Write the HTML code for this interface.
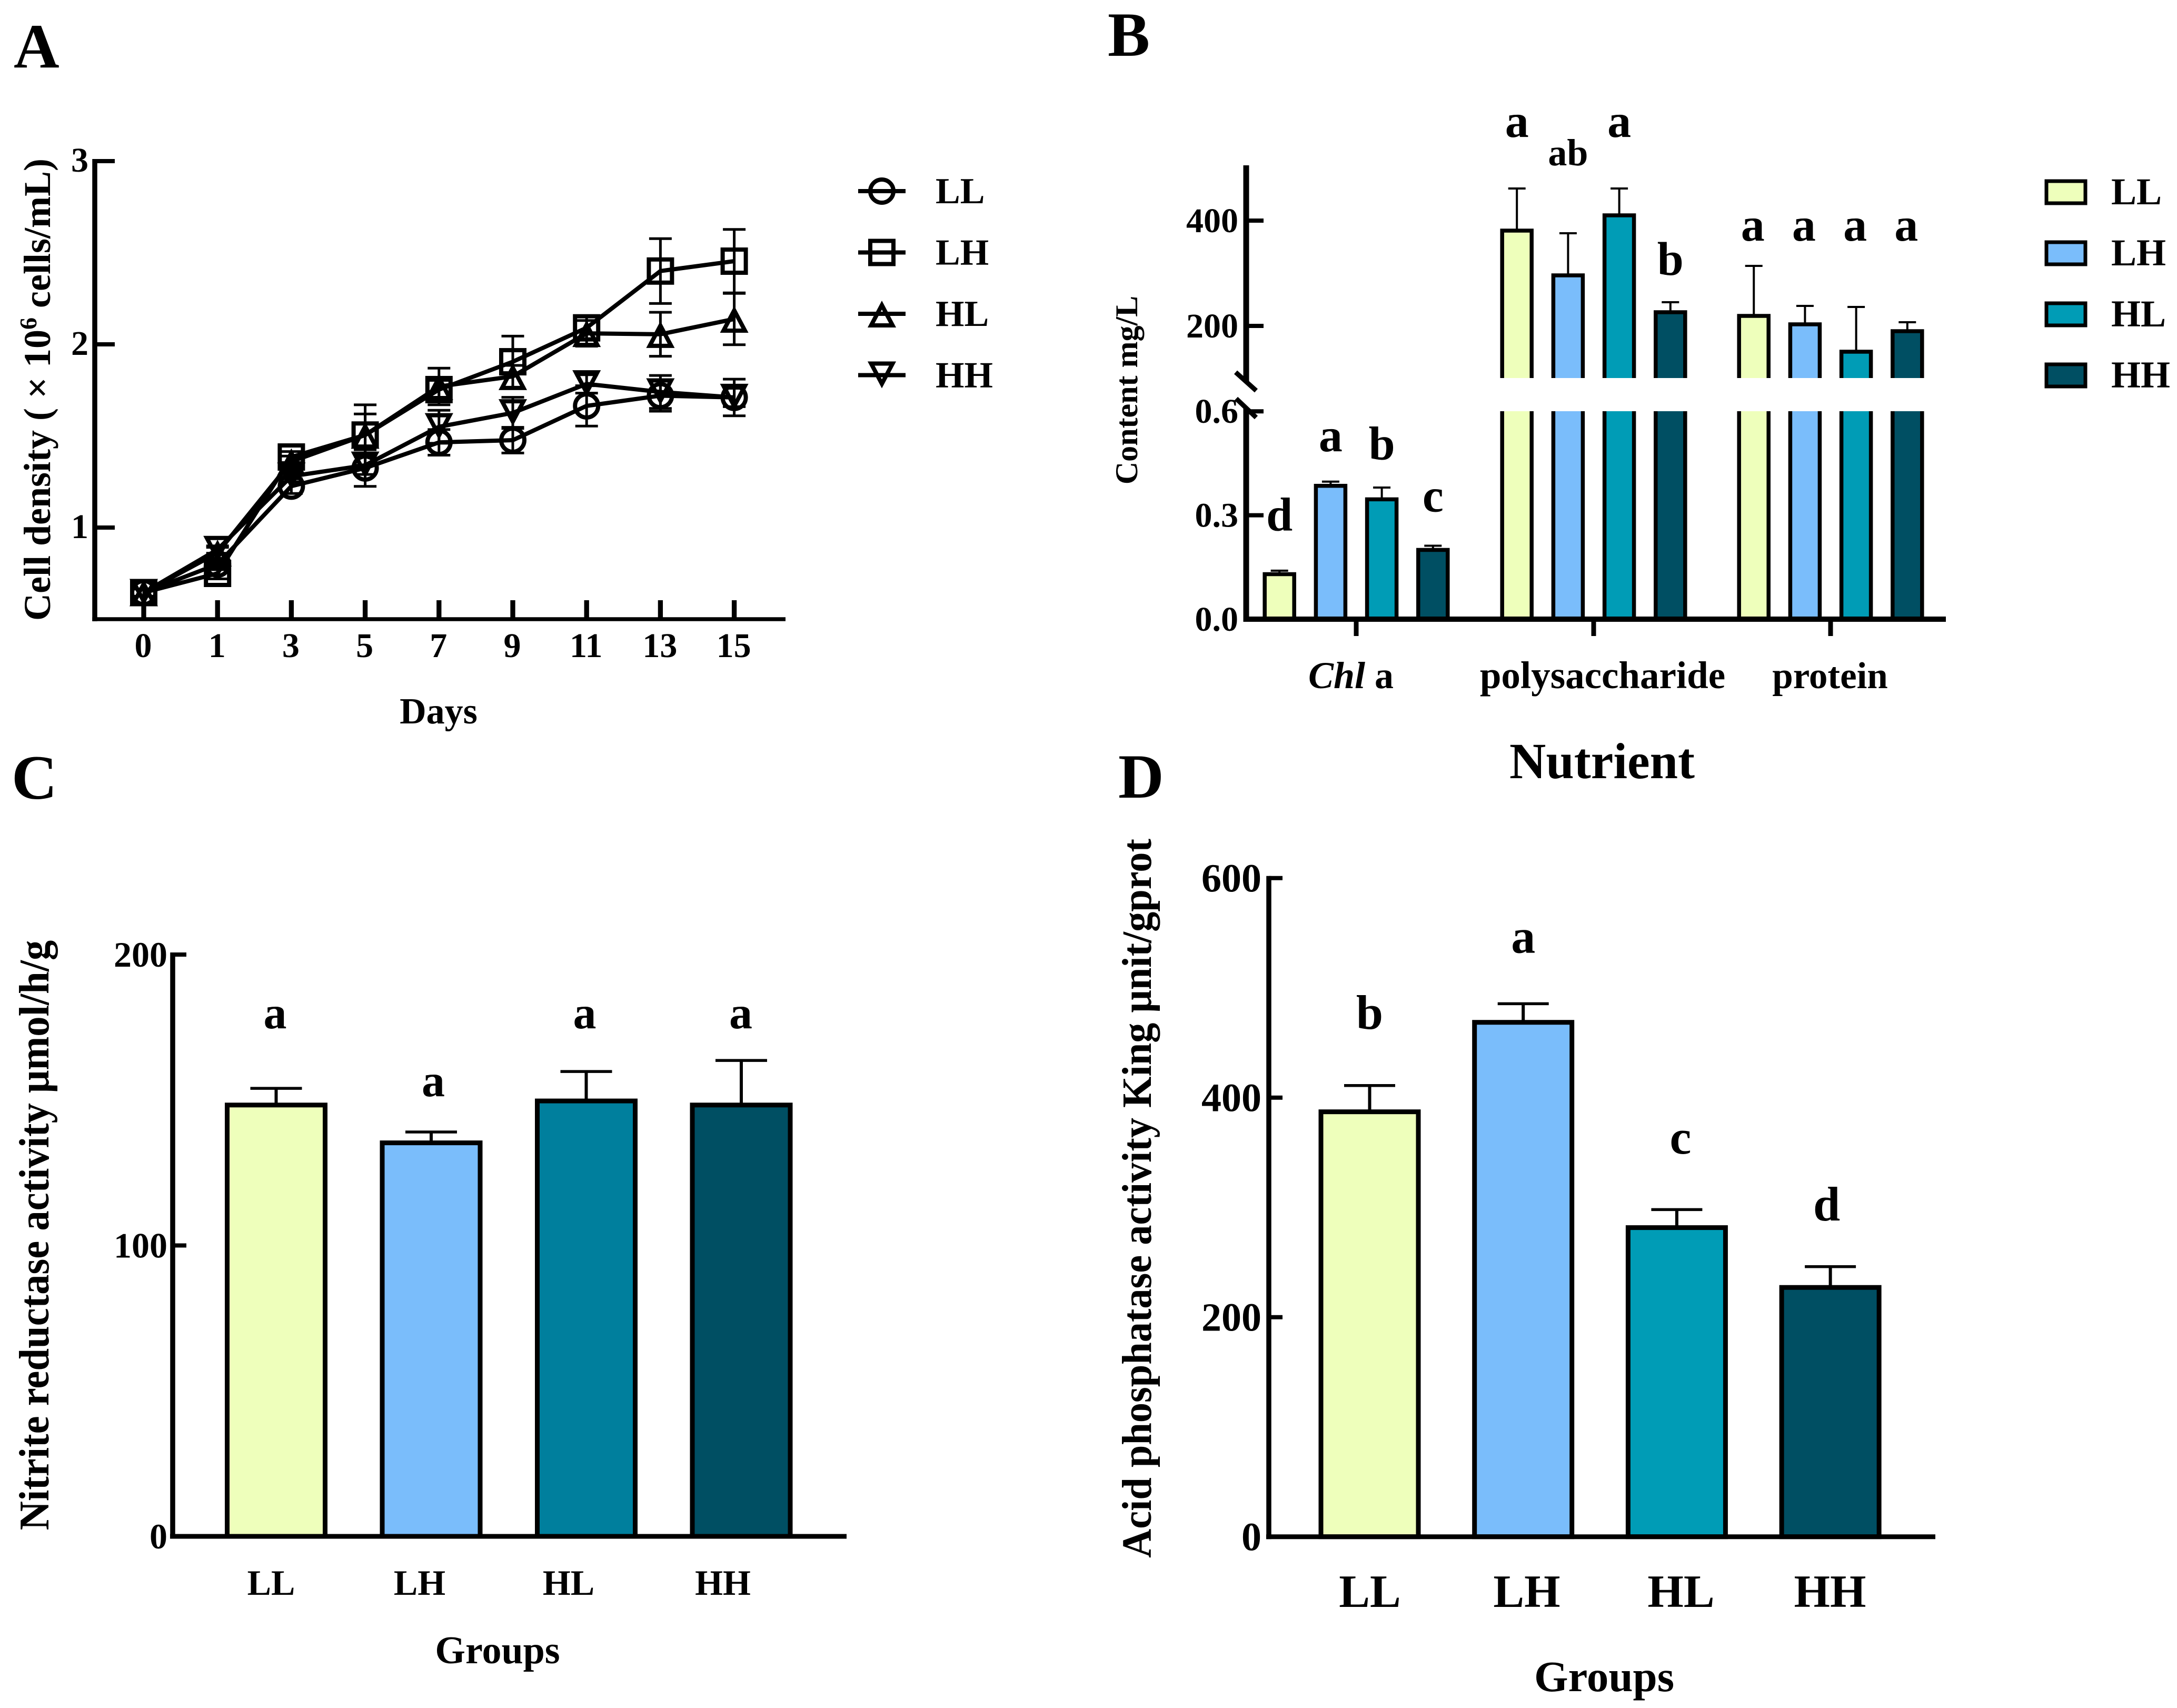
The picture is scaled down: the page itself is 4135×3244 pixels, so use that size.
<!DOCTYPE html>
<html lang="en">
<head>
<meta charset="utf-8">
<title>Microalgae growth and nutrient panels</title>
<style>
html,body{margin:0;padding:0;background:#fff;}
svg{display:block;}
text{font-family:"Liberation Serif",serif;font-weight:bold;fill:#000;}
</style>
</head>
<body>
<svg id="figure" xmlns="http://www.w3.org/2000/svg" width="4135" height="3244" viewBox="0 0 4135 3244">
  <rect width="4135" height="3244" fill="#fff"/>

  <g id="panel-a">
    <text x="26" y="128" font-size="120">A</text>
    <text transform="translate(95 740) rotate(-90)" text-anchor="middle" font-size="72">Cell density ( × 10<tspan font-size="46" dy="-26">6</tspan><tspan dy="26"> cells/mL)</tspan></text>
    <text x="833" y="1374" text-anchor="middle" font-size="70">Days</text>
  </g>

  <g id="panel-b">
    <text x="2104" y="106" font-size="120">B</text>
    <text transform="translate(2160 741) rotate(-90)" text-anchor="middle" font-size="60">Content mg/L</text>
    <text x="3043" y="1478" text-anchor="middle" font-size="96">Nutrient</text>
  </g>

  <g id="panel-c">
    <text x="22" y="1517" font-size="120">C</text>
    <text transform="translate(92 2346) rotate(-90) scale(0.946 1)" text-anchor="middle" font-size="81">Nitrite reductase activity μmol/h/g</text>
    <text x="945" y="3159" text-anchor="middle" font-size="74">Groups</text>
  </g>

  <g id="panel-d">
    <text x="2124" y="1515" font-size="120">D</text>
    <text transform="translate(2186 2276) rotate(-90) scale(0.967 1)" text-anchor="middle" font-size="79">Acid phosphatase activity King μnit/gprot</text>
    <text x="3047" y="3212" text-anchor="middle" font-size="83">Groups</text>
  </g>
</svg>

<script>
/* ---------- shared ---------- */
const groupNames = ['LL', 'LH', 'HL', 'HH'];

/* ---------- panel A data ---------- */
const days = ['0', '1', '3', '5', '7', '9', '11', '13', '15'];
const densityTicks = [1, 2, 3];
const llMeans = [0.645, 0.80, 1.226, 1.325, 1.465, 1.477, 1.664, 1.72, 1.71];
const llErrors = [0.02, 0.03, 0.04, 0.10, 0.07, 0.07, 0.11, 0.085, 0.05];
const lhMeans = [0.645, 0.75, 1.385, 1.505, 1.753, 1.905, 2.09, 2.40, 2.454];
const lhErrors = [0.02, 0.03, 0.03, 0.165, 0.05, 0.14, 0.06, 0.177, 0.173];
const hlMeans = [0.645, 0.862, 1.36, 1.505, 1.77, 1.825, 2.06, 2.055, 2.138];
const hlErrors = [0.02, 0.03, 0.03, 0.115, 0.10, 0.06, 0.07, 0.12, 0.14];
const hhMeans = [0.645, 0.88, 1.28, 1.34, 1.55, 1.626, 1.784, 1.74, 1.71];
const hhErrors = [0.02, 0.02, 0.03, 0.05, 0.09, 0.085, 0.05, 0.09, 0.10];

/* ---------- panel B data ---------- */
const nutrientNames = ['chl-a', 'polysaccharide', 'protein'];
const lowTicks = [0.0, 0.3, 0.6];
const highTicks = [200, 400];
const chlMeans = [0.136, 0.391, 0.352, 0.206];
const chlErrors = [0.004, 0.006, 0.028, 0.006];
const chlLetters = ['d', 'a', 'b', 'c'];
const chlLetterLevels = [0.256, 0.485, 0.461, 0.311];
const polyMeans = [385, 300, 414, 230];
const polyErrors = [76, 76, 47, 15];
const polyLetters = ['a', 'ab', 'a', 'b'];
const polyLetterLevels = [559, 505, 559, 297];
const proteinMeans = [223, 207, 155, 194];
const proteinErrors = [91, 31, 81, 13];
const proteinLetters = ['a', 'a', 'a', 'a'];
const proteinLetterLevels = [362, 362, 362, 362];

/* ---------- panel C data ---------- */
const nitriteTicks = [0, 100, 200];
const nitriteMeans = [149, 136, 150.4, 149];
const nitriteErrors = [5, 3, 9.4, 14.6];
const nitriteLetters = ['a', 'a', 'a', 'a'];
const nitriteLetterLevels = [174.7, 151.3, 174.7, 174.7];

/* ---------- panel D data ---------- */
const phosphataseTicks = [0, 200, 400, 600];
const phosphataseMeans = [389, 470.5, 283.5, 229];
const phosphataseErrors = [22, 15, 14.5, 17];
const phosphataseLetters = ['b', 'a', 'c', 'd'];
const phosphataseLetterLevels = [462.8, 531.9, 349, 288];

/* ---------- helpers ---------- */
const SVG_NS = 'http://www.w3.org/2000/svg';

function add(parent, tag, attrs, text) {
  const el = document.createElementNS(SVG_NS, tag);
  for (const key in attrs) el.setAttribute(key, attrs[key]);
  if (text !== undefined) el.textContent = text;
  parent.appendChild(el);
  return el;
}

function seg(parent, x1, y1, x2, y2, width) {
  return add(parent, 'line', { x1: x1, y1: y1, x2: x2, y2: y2, stroke: '#000', 'stroke-width': width });
}

function label(parent, x, y, size, anchor, text) {
  return add(parent, 'text', { x: x, y: y, 'font-size': size, 'text-anchor': anchor }, text);
}

function drawMarker(parent, kind, cx, cy) {
  const style = { fill: 'none', stroke: '#000', 'stroke-width': 8, 'stroke-linejoin': 'miter' };
  if (kind === 'LL') return add(parent, 'circle', Object.assign({ cx: cx, cy: cy, r: 22 }, style));
  if (kind === 'LH') return add(parent, 'rect', Object.assign({ x: cx - 22, y: cy - 22, width: 44, height: 44 }, style));
  const dir = kind === 'HL' ? 1 : -1;
  const pts = [[0, -16.5 * dir], [20.4, 22 * dir], [-20.4, 22 * dir]].map(p => (cx + p[0]) + ',' + (cy + p[1])).join(' ');
  return add(parent, 'polygon', Object.assign({ points: pts }, style));
}

/* error bar: stem from the bar top to the cap */
function drawError(parent, x, yFrom, yTo, capWidth, stemThick, capThick, name) {
  const stem = seg(parent, x, yFrom, x, yTo, stemThick);
  
  
  const cap = seg(parent, x - capWidth / 2, yTo, x + capWidth / 2, yTo, capThick);
  
  
}

/* ---------- panel A ---------- */
(function () {
  const root = document.getElementById('panel-a');
  const xA = i => 273 + 140.2 * i;
  const yA = v => 1176 - (v - 0.5) * 348;

  const series = [
    { key: 'LL', means: llMeans, errs: llErrors },
    { key: 'LH', means: lhMeans, errs: lhErrors },
    { key: 'HL', means: hlMeans, errs: hlErrors },
    { key: 'HH', means: hhMeans, errs: hhErrors }
  ];

  const yAxis = seg(root, 180, 302, 180, 1180, 9.5);
  
  
  const xAxis = seg(root, 175.3, yA(0.5), 1492, yA(0.5), 7.5);
  
  

  densityTicks.forEach(t => {
    const tick = seg(root, 180, yA(t), 218, yA(t), 8);
    
    
    const txt = label(root, 168, yA(t) + 20, 66, 'end', String(t));
    
    
  });

  days.forEach((d, i) => {
    const tick = seg(root, xA(i), 1140, xA(i), 1176, 9.3);
    
    
    const txt = label(root, xA(i) - 1, 1248, 66, 'middle', d);
    
    
  });

  series.forEach(s => {
    const g = add(root, 'g', {});
    
    
    s.means.forEach((m, i) => {
      const top = seg(g, xA(i), yA(m + s.errs[i]), xA(i), yA(m - s.errs[i]), 5);
      
      
      const capHi = seg(g, xA(i) - 21.5, yA(m + s.errs[i]), xA(i) + 21.5, yA(m + s.errs[i]), 5);
      
      
      const capLo = seg(g, xA(i) - 21.5, yA(m - s.errs[i]), xA(i) + 21.5, yA(m - s.errs[i]), 5);
      
      
    });
    const pts = s.means.map((m, i) => xA(i) + ',' + yA(m)).join(' ');
    const line = add(g, 'polyline', { points: pts, fill: 'none', stroke: '#000', 'stroke-width': 8, 'stroke-linejoin': 'miter' });
    
    
    s.means.forEach((m, i) => {
      const mark = drawMarker(g, s.key, xA(i), yA(m));
      
      
    });
  });

  groupNames.forEach((n, i) => {
    const cy = 363 + 116.5 * i;
    const g = add(root, 'g', {});
    
    
    const ln = seg(g, 1630, cy, 1720, cy, 8);
    
    
    const mk = drawMarker(g, n, 1675, cy);
    
    
    const tx = label(g, 1777, cy + 23, 70, 'start', n);
    
    
  });
})();

/* ---------- panel colours ---------- */
const barColorsB = ['#EEFFBB', '#7ABDFB', '#009CB6', '#004F63'];
const barColorsC = ['#EEFFBB', '#7ABDFB', '#007F9D', '#004F63'];

/* ---------- panel B ---------- */
(function () {
  const root = document.getElementById('panel-b');
  const yLow = v => 1176 - 658 * v;
  const yHigh = v => 719 - (v - 100);
  const BREAK_TOP = 718;
  const BREAK_BOTTOM = 781;
  const groupCenters = [2576, 3027, 3477];
  const barOffset = j => (j - 1.5) * 97.2;

  const groups = [
    { name: nutrientNames[0], means: chlMeans, errs: chlErrors, letters: chlLetters, levels: chlLetterLevels, scale: yLow, broken: false, shift: 0 },
    { name: nutrientNames[1], means: polyMeans, errs: polyErrors, letters: polyLetters, levels: polyLetterLevels, scale: yHigh, broken: true, shift: 0 },
    { name: nutrientNames[2], means: proteinMeans, errs: proteinErrors, letters: proteinLetters, levels: proteinLetterLevels, scale: yHigh, broken: true, shift: -2 }
  ];

  const upperAxis = seg(root, 2367, 314, 2367, 725, 11);
  
  
  const lowerAxis = seg(root, 2367, 775, 2367, 1181, 11);
  
  
  const slashA = seg(root, 2347, 707, 2386, 742, 9);
  
  
  const slashB = seg(root, 2348, 757, 2386, 793, 9);
  
  

  lowTicks.forEach(t => {
    const tick = seg(root, 2367, yLow(t), 2400, yLow(t), 8);
    
    
    const txt = label(root, 2352, yLow(t) + 22, 66, 'end', t.toFixed(1));
    
    
  });
  highTicks.forEach(t => {
    const tick = seg(root, 2367, yHigh(t), 2400, yHigh(t), 8);
    
    
    const txt = label(root, 2352, yHigh(t) + 22, 66, 'end', String(t));
    
    
  });

  groups.forEach((grp, k) => {
    const gc = groupCenters[k];
    grp.means.forEach((m, j) => {
      const bx = gc + barOffset(j);
      const halfW = 28;
      const top = grp.scale(m) + 4;
      const col = barColorsB[j];
      const name = grp.name + '-' + groupNames[j];
      drawError(root, bx, top, grp.scale(m + grp.errs[j]), 33, 4, 4, name);
      if (grp.broken) {
        const fillHi = add(root, 'rect', { x: bx - halfW, y: top, width: 2 * halfW, height: BREAK_TOP - top, fill: col });
        
        
        const edgeHi = add(root, 'path', { d: 'M' + (bx - halfW) + ' ' + BREAK_TOP + 'V' + top + 'H' + (bx + halfW) + 'V' + BREAK_TOP, fill: 'none', stroke: '#000', 'stroke-width': 7.5 });
        
        
        const fillLo = add(root, 'rect', { x: bx - halfW, y: BREAK_BOTTOM, width: 2 * halfW, height: 1176 - BREAK_BOTTOM, fill: col });
        
        
        const edgeLo = add(root, 'path', { d: 'M' + (bx - halfW) + ' ' + BREAK_BOTTOM + 'V1176M' + (bx + halfW) + ' ' + BREAK_BOTTOM + 'V1176', fill: 'none', stroke: '#000', 'stroke-width': 7.5 });
        
        
      } else {
        const bar = add(root, 'rect', { x: bx - halfW, y: top, width: 2 * halfW, height: 1176 - top, fill: col, stroke: '#000', 'stroke-width': 7.5 });
        
        
      }
      const size = grp.letters[j].length > 1 ? 72 : 90;
      const letter = label(root, bx + grp.shift, grp.scale(grp.levels[j]), size, 'middle', grp.letters[j]);
      
      
    });
    const tick = seg(root, gc, 1176, gc, 1208, 9);
    
    
  });

  const xAxis = seg(root, 2362, 1176, 3696, 1176, 10);
  
  

  const chl = add(root, 'text', { x: 2566, y: 1307, 'font-size': 72, 'text-anchor': 'middle' });
  
  
  const chlItalic = add(chl, 'tspan', { 'font-style': 'italic' }, 'Chl');
  
  
  chl.appendChild(document.createTextNode(' a'));
  const poly = label(root, 3044, 1307, 73, 'middle', 'polysaccharide');
  
  
  const prot = label(root, 3476, 1307, 71, 'middle', 'protein');
  
  

  groupNames.forEach((n, i) => {
    const cy = 365 + 116 * i;
    const g = add(root, 'g', {});
    
    
    const sw = add(g, 'rect', { x: 3887, y: cy - 21, width: 74, height: 42, fill: barColorsB[i], stroke: '#000', 'stroke-width': 7 });
    
    
    const tx = label(g, 4010, cy + 23, 72, 'start', n);
    
    
  });
})();

/* ---------- panels C and D ---------- */
function drawBarPanel(cfg) {
  const root = document.getElementById(cfg.id);
  const y = v => cfg.y0 - v * cfg.unit;
  const x = j => cfg.x0 + j * cfg.step;

  cfg.means.forEach((m, j) => {
    const name = cfg.prefix + '-' + groupNames[j];
    const top = y(m) + 4;
    drawError(root, x(j), top, y(m + cfg.errs[j]), cfg.capWidth, 6, 5.5, name);
    const bar = add(root, 'rect', { x: x(j) - cfg.barWidth / 2, y: top, width: cfg.barWidth, height: cfg.y0 - top, fill: cfg.colors[j], stroke: '#000', 'stroke-width': 9 });
    
    
    const letter = label(root, x(j) + cfg.letterShift[j], y(cfg.levels[j]), cfg.letterSize, 'middle', cfg.letters[j]);
    
    
    const cat = label(root, cfg.catCenters[j], cfg.catBaseline, cfg.catSize, 'middle', groupNames[j]);
    
    
  });

  const yAxis = seg(root, cfg.axisX, y(cfg.ticks[cfg.ticks.length - 1]) - 4, cfg.axisX, cfg.y0 + 4.5, 9.5);
  
  
  const xAxis = seg(root, cfg.axisX - 5, cfg.y0, cfg.axisEnd, cfg.y0, 9);
  
  

  cfg.ticks.forEach(t => {
    const tick = seg(root, cfg.axisX, y(t), cfg.axisX + 26, y(t), 8);
    
    
    const txt = label(root, cfg.tickRight, y(t) + cfg.tickDrop, cfg.tickSize, 'end', String(t));
    
    
  });
}

drawBarPanel({
  id: 'panel-c', prefix: 'panel-c',
  means: nitriteMeans, errs: nitriteErrors, letters: nitriteLetters, levels: nitriteLetterLevels, ticks: nitriteTicks,
  y0: 2918, unit: 5.525, x0: 524.5, step: 294.5, barWidth: 186, capWidth: 98, colors: barColorsC,
  axisX: 328, axisEnd: 1608, tickRight: 318, tickDrop: 23, tickSize: 68,
  letterSize: 88, letterShift: [-2, 4, -3, -1],
  catCenters: [515, 797, 1080, 1373], catBaseline: 3029, catSize: 68
});

drawBarPanel({
  id: 'panel-d', prefix: 'panel-d',
  means: phosphataseMeans, errs: phosphataseErrors, letters: phosphataseLetters, levels: phosphataseLetterLevels, ticks: phosphataseTicks,
  y0: 2918.7, unit: 2.085, x0: 2601.5, step: 291.7, barWidth: 185, capWidth: 97, colors: barColorsB,
  axisX: 2410, axisEnd: 3676, tickRight: 2396, tickDrop: 26, tickSize: 76,
  letterSize: 92, letterShift: [0, 0, 7, -7],
  catCenters: [2602, 2900, 3193, 3476], catBaseline: 3052, catSize: 88
});
</script>
</body>
</html>
